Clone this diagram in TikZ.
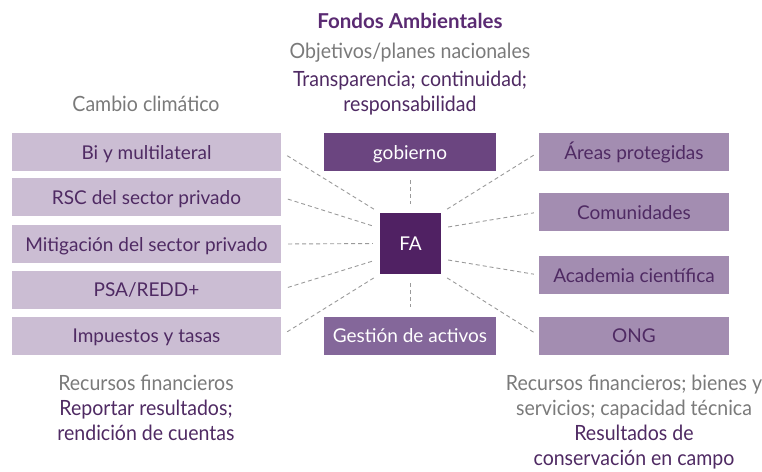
\documentclass[tikz,border=0pt]{standalone}
\usepackage{fontspec}
\setmainfont{Lato}
\usetikzlibrary{calc}
\definecolor{txtpurple}{HTML}{4F2A63}
\definecolor{titlepurple}{HTML}{5A2A72}
\definecolor{graytxt}{HTML}{7A7A7A}
\definecolor{lightbox}{HTML}{CBBDD3}
\definecolor{midbox}{HTML}{A38DB1}
\definecolor{govbox}{HTML}{6B4580}
\definecolor{gestbox}{HTML}{84679A}
\definecolor{fabox}{HTML}{502163}
\definecolor{dashgray}{HTML}{9A9A9A}
\begin{document}
\begin{tikzpicture}[x=1pt,y=-1pt,
  boxtext/.style={font=\fontsize{19}{22}\selectfont, inner sep=0pt, anchor=center, text height=14pt, text depth=0pt},
  leftbox/.style={boxtext, fill=lightbox, text=txtpurple, minimum width=269pt, minimum height=38pt},
  rightbox/.style={boxtext, fill=midbox, text=txtpurple, minimum width=190pt, minimum height=38pt},
  centerbox/.style={boxtext, text=white, minimum width=172pt, minimum height=38pt},
  graylabel/.style={font=\fontsize{21}{25}\selectfont\addfontfeature{FakeStretch=0.93}, text=graytxt, inner sep=0pt, anchor=base},
  purplelabel/.style={font=\fontsize{21}{25}\selectfont\addfontfeature{FakeStretch=0.93}, text=txtpurple, inner sep=0pt, anchor=base},
  link/.style={draw=dashgray, line width=0.9pt, dash pattern=on 4pt off 3pt}
]
\useasboundingbox (0,0) rectangle (762,471);
% titles
\node[font=\fontsize{20.5}{24}\selectfont\bfseries, text=titlepurple, inner sep=0pt, anchor=base] (title) at (410,28) {Fondos Ambientales};
\node[graylabel] (obj) at (410,58) {Objetivos/planes nacionales};
\node[purplelabel] (transp1) at (410,86) {Transparencia; continuidad;};
\node[purplelabel] (transp2) at (410,111) {responsabilidad};
\node[graylabel] (cambio) at (146,111) {Cambio climático};
% left boxes
\node[leftbox] (l1) at (146.5,152) {Bi y multilateral};
\node[leftbox] (l2) at (146.5,197) {RSC del sector privado};
\node[leftbox] (l3) at (146.5,244) {Mitigación del sector privado};
\node[leftbox] (l4) at (146.5,289.5) {PSA/REDD+};
\node[leftbox] (l5) at (146.5,335.5) {Impuestos y tasas};
% center boxes
\node[centerbox, fill=govbox] (gob) at (410,152) {gobierno};
\node[centerbox, fill=gestbox] (gest) at (410,335.5) {Gestión de activos};
\node[boxtext, fill=fabox, text=white, minimum width=61pt, minimum height=61pt] (fa) at (410.5,243.5) {FA};
% right boxes
\node[rightbox] (r1) at (634,152) {Áreas protegidas};
\node[rightbox] (r2) at (634,212) {Comunidades};
\node[rightbox] (r3) at (634,275) {Academia científica};
\node[rightbox] (r4) at (634,335.5) {ONG};
% FA edge points
\coordinate (fw1) at (fa.north west);
\coordinate (fw2) at ($(fa.north west)!0.25!(fa.south west)$);
\coordinate (fw3) at (fa.west);
\coordinate (fw4) at ($(fa.north west)!0.75!(fa.south west)$);
\coordinate (fw5) at (fa.south west);
\coordinate (fe1) at (fa.north east);
\coordinate (fe2) at ($(fa.north east)!0.25!(fa.south east)$);
\coordinate (fe3) at ($(fa.north east)!0.75!(fa.south east)$);
\coordinate (fe4) at (fa.south east);
% connectors
\draw[link, shorten <=7pt, shorten >=7pt] (l1.east) -- (fw1);
\draw[link, shorten <=7pt, shorten >=7pt] (l2.east) -- (fw2);
\draw[link, shorten <=7pt, shorten >=7pt] (l3.east) -- (fw3);
\draw[link, shorten <=7pt, shorten >=7pt] (l4.east) -- (fw4);
\draw[link, shorten <=7pt, shorten >=7pt] (l5.east) -- (fw5);
\draw[link, shorten <=7pt, shorten >=5pt] (fe1) -- (r1.west);
\draw[link, shorten <=7pt, shorten >=5pt] (fe2) -- (r2.west);
\draw[link, shorten <=7pt, shorten >=5pt] (fe3) -- (r3.west);
\draw[link, shorten <=7pt, shorten >=5pt] (fe4) -- (r4.west);
\draw[link, shorten <=9pt, shorten >=9pt] (gob.south) -- (gob.south |- fa.north);
\draw[link, shorten <=9pt, shorten >=9pt] (gest.north |- fa.south) -- (gest.north);
% bottom labels
\node[graylabel] (recl) at (146,390) {Recursos financieros};
\node[purplelabel] (rep1) at (146,415) {Reportar resultados;};
\node[purplelabel] (rep2) at (146,440) {rendición de cuentas};
\node[graylabel] (recr1) at (634,390) {Recursos financieros; bienes y};
\node[graylabel] (recr2) at (634,415) {servicios; capacidad técnica};
\node[purplelabel] (res1) at (634,440) {Resultados de};
\node[purplelabel] (res2) at (634,465) {conservación en campo};
\end{tikzpicture}
\end{document}
